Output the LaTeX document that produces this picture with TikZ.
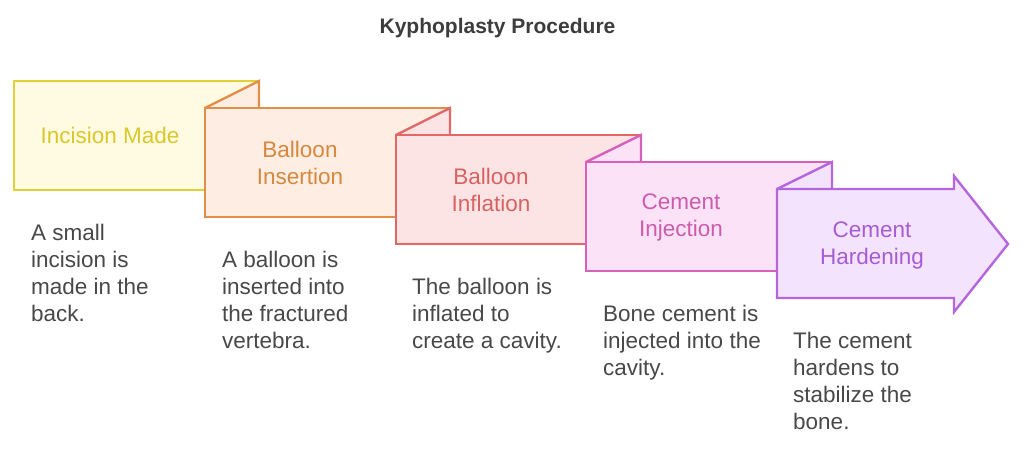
\documentclass[tikz,border=0pt]{standalone}
\usepackage{fontspec}
\setmainfont{Liberation Sans}
\definecolor{sA}{RGB}{228,208,52}
\definecolor{fA}{RGB}{254,251,226}
\definecolor{tA}{RGB}{218,200,40}
\definecolor{sB}{RGB}{224,142,72}
\definecolor{fB}{RGB}{253,237,226}
\definecolor{tB}{RGB}{214,136,62}
\definecolor{sC}{RGB}{226,104,104}
\definecolor{fC}{RGB}{253,228,228}
\definecolor{tC}{RGB}{214,98,98}
\definecolor{sD}{RGB}{214,96,188}
\definecolor{fD}{RGB}{251,226,246}
\definecolor{tD}{RGB}{204,92,172}
\definecolor{sE}{RGB}{180,102,222}
\definecolor{fE}{RGB}{244,227,253}
\definecolor{tE}{RGB}{166,92,212}
\definecolor{desc}{RGB}{72,72,72}
\definecolor{ttl}{RGB}{60,60,60}
\tikzset{
  shapeline/.style={line width=2.4pt, line join=miter},
  boxtitle/.style={font=\fontsize{22.5}{27}\selectfont, align=center, inner sep=0pt},
  desctext/.style={font=\fontsize{22.5}{27}\selectfont, align=left, anchor=base west, inner sep=0pt, text=desc},
}
\begin{document}
\begin{tikzpicture}[x=1pt,y=-1pt]
\useasboundingbox (0,0) rectangle (1024,449);
% title
\node[font=\bfseries\fontsize{21}{25}\selectfont, text=ttl] (title) at (497.5,28) {Kyphoplasty Procedure};
% box 1
\draw[shapeline, draw=sA, fill=fA] (14,81) rectangle (259,190);
% flap 2 + box 2
\draw[shapeline, draw=sB, fill=fB] (205,108) -- (259,81) -- (259,108);
\draw[shapeline, draw=sB, fill=fB] (205,108) rectangle (450,217);
% flap 3 + box 3
\draw[shapeline, draw=sC, fill=fC] (396,135) -- (450,108) -- (450,135);
\draw[shapeline, draw=sC, fill=fC] (396,135) rectangle (641,244);
% flap 4 + box 4
\draw[shapeline, draw=sD, fill=fD] (586,162) -- (641,135) -- (641,162);
\draw[shapeline, draw=sD, fill=fD] (586,162) rectangle (832,271);
% flap 5 + arrow 5
\draw[shapeline, draw=sE, fill=fE] (777,189) -- (832,162) -- (832,189);
\draw[shapeline, draw=sE, fill=fE] (777,189) -- (954,189) -- (954,176) -- (1008,244) -- (954,312) -- (954,298) -- (777,298) -- cycle;
% box titles
\node[boxtitle, text=tA] (t1) at (110,135.5) {Incision Made};
\node[boxtitle, text=tB] (t2) at (300,163) {Balloon\\Insertion};
\node[boxtitle, text=tC] (t3) at (491,190) {Balloon\\Inflation};
\node[boxtitle, text=tD] (t4) at (681,217) {Cement\\Injection};
\node[boxtitle, text=tE] (t5) at (872,245) {Cement\\Hardening};
% descriptions (anchored at the baseline of the last line)
\node[desctext] (d1) at (31,321) {A small\\incision is\\made in the\\back.};
\node[desctext] (d2) at (222,348) {A balloon is\\inserted into\\the fractured\\vertebra.};
\node[desctext] (d3) at (412,348) {The balloon is\\inflated to\\create a cavity.};
\node[desctext] (d4) at (603,375) {Bone cement is\\injected into the\\cavity.};
\node[desctext] (d5) at (793,429) {The cement\\hardens to\\stabilize the\\bone.};
\end{tikzpicture}
\end{document}
